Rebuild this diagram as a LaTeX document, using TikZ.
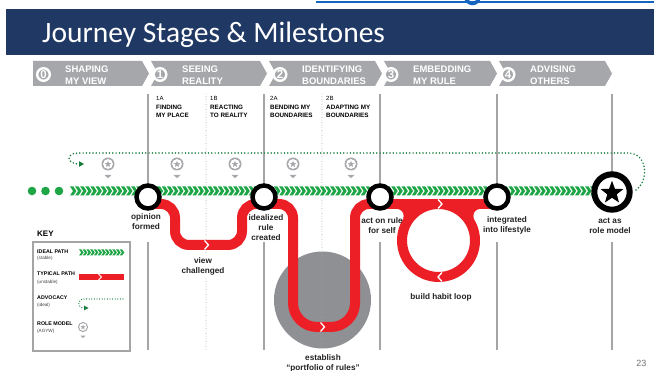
\documentclass[tikz,border=0pt]{standalone}
\usepackage{fontspec}
\setmainfont{Liberation Sans}
\newfontfamily\titlefont{Carlito}
\usetikzlibrary{shapes.geometric}
\definecolor{navy}{RGB}{31,56,100}
\definecolor{topblue}{RGB}{21,101,192}
\definecolor{stagegray}{RGB}{166,167,170}
\definecolor{linegray}{RGB}{165,165,165}
\definecolor{idealgreen}{RGB}{30,165,70}
\definecolor{advgreen}{RGB}{22,125,60}
\definecolor{pathred}{RGB}{236,30,38}
\definecolor{discgray}{RGB}{143,144,148}
\definecolor{icongray}{RGB}{168,169,172}
\definecolor{labeltext}{RGB}{35,35,35}
\tikzset{
  rmicon/.pic={
    \fill[icongray] (0,0) circle (6.5);
    \fill[white] (0,0) circle (4.9);
    \node[star, star points=5, star point ratio=2.3, fill=icongray, minimum size=6.8, inner sep=0] at (0,0.2) {};
    \fill[icongray] (-3.5,11) -- (3.5,11) -- (0,14.2) -- cycle;
  }
}
\begin{document}
\begin{tikzpicture}[x=1pt,y=-1pt,
  stagetxt/.style={anchor=base west, inner sep=0, text=white, font=\bfseries\fontsize{9.5}{11}\selectfont},
  stagenum/.style={circle, draw=white, line width=2.4, fill=stagegray, minimum size=12.6, inner sep=0, text=white, font=\bfseries\fontsize{11.5}{12}\selectfont},
  subid/.style={anchor=base west, inner sep=0, font=\fontsize{6}{7}\selectfont, text=black},
  subname/.style={anchor=base west, inner sep=0, font=\bfseries\fontsize{6.3}{7}\selectfont, text=black},
  vline/.style={draw=linegray, line width=1.2},
  dline/.style={draw=linegray, line width=0.9, line cap=round, dash pattern=on 0pt off 2.6pt},
  milestone/.style={circle, draw=black, line width=4.5, fill=white, minimum size=23, inner sep=0},
  mlabel/.style={align=center, inner sep=0, text=labeltext, font=\bfseries\fontsize{8.2}{10}\selectfont},
  redpath/.style={draw=pathred, line width=10},
  notch/.style={draw=white, line width=1.3},
  advocacy/.style={draw=advgreen, line width=1.7, line cap=round, dash pattern=on 0pt off 3.3pt},
  keyhead/.style={anchor=base west, inner sep=0, font=\bfseries\fontsize{5.3}{6}\selectfont, text=black},
  keysub/.style={anchor=base west, inner sep=0, font=\fontsize{4.6}{5}\selectfont, text=black!75},
]
\useasboundingbox (0,0) rectangle (654,371);
\fill[white] (0,0) rectangle (654,371);

% ---------- header ----------
\draw[topblue, line width=2] (316,2.5) -- (654,2.5);
\draw[topblue, line width=3.5] (472.5,-3) circle (6.5);
\fill[navy] (6,9) rectangle (654,55.5);
\node[anchor=base west, inner sep=0, text=white, font=\titlefont\fontsize{29.5}{30}\selectfont] (title) at (42,43) {Journey Stages \& Milestones};

% ---------- stage bar ----------
\fill[stagegray] (33,61) -- (142,61) -- (149,73.5) -- (142,86) -- (33,86) -- cycle;
\foreach \xl/\xr in {151/267, 269/382, 384/497, 499/612}
  \fill[stagegray] (\xl,61) -- (\xr-7,61) -- (\xr,73.5) -- (\xr-7,86) -- (\xl,86) -- (\xl+7,73.5) -- cycle;
\node[stagenum] (n0) at (43.5,74.5) {0};
\node[stagenum] (n1) at (160,74.5) {1};
\node[stagenum] (n2) at (280,74.5) {2};
\node[stagenum] (n3) at (391,74.5) {3};
\node[stagenum] (n4) at (508,74.5) {4};
\node[stagetxt] (t0a) at (65,73) {SHAPING};
\node[stagetxt] (t0b) at (65,84.5) {MY VIEW};
\node[stagetxt] (t1a) at (182,73) {SEEING};
\node[stagetxt] (t1b) at (182,84.5) {REALITY};
\node[stagetxt] (t2a) at (302,73) {IDENTIFYING};
\node[stagetxt] (t2b) at (302,84.5) {BOUNDARIES};
\node[stagetxt] (t3a) at (413,73) {EMBEDDING};
\node[stagetxt] (t3b) at (413,84.5) {MY RULE};
\node[stagetxt] (t4a) at (530,73) {ADVISING};
\node[stagetxt] (t4b) at (530,84.5) {OTHERS};

% ---------- sub-stage labels ----------
\node[subid] (s1a) at (156,100.5) {1A};
\node[subname] (s1an) at (156,109.5) {FINDING};
\node[subname] (s1an2) at (156,117.5) {MY PLACE};
\node[subid] (s1b) at (210,100.5) {1B};
\node[subname] (s1bn) at (210,109.5) {REACTING};
\node[subname] (s1bn2) at (210,117.5) {TO REALITY};
\node[subid] (s2a) at (270,100.5) {2A};
\node[subname] (s2an) at (270,109.5) {BENDING MY};
\node[subname] (s2an2) at (270,117.5) {BOUNDARIES};
\node[subid] (s2b) at (326,100.5) {2B};
\node[subname] (s2bn) at (326,109.5) {ADAPTING MY};
\node[subname] (s2bn2) at (326,117.5) {BOUNDARIES};

% ---------- background disc ----------
\fill[discgray] (322.5,300) circle (48.5);

% ---------- vertical guide lines ----------
\foreach \x in {148,264,380,497,612} {
  \draw[vline] (\x,94) -- (\x,185);
  \draw[vline] (\x,242) -- (\x,350);
}
\draw[dline] (206,94) -- (206,255);
\draw[dline] (206,279) -- (206,350);
\draw[dline] (322,94) -- (322,350);

% ---------- advocacy path and role-model icons ----------
\coordinate (advS) at (636,190);
\coordinate (advE) at (79,164);
\draw[advocacy] (advS) .. controls (649,181) and (648,153) .. (628,153) -- (78,153) .. controls (66,153) and (66,164) .. (advE);
\fill[advgreen] (79,161.2) -- (84,164) -- (79,166.8) -- cycle;
\foreach \x in {108,177,235,293,351}
  \pic at (\x,164) {rmicon};

% ---------- ideal path ----------
\foreach \x in {32,45.5,59}
  \fill[idealgreen] (\x,191) circle (4.3);
\foreach \i in {0,...,102} {
  \pgfmathsetmacro\cx{70+5.1*\i}
  \fill[idealgreen] (\cx,186.5) -- ++(3.4,0) -- ++(3,4.5) -- ++(-3,4.5) -- ++(-3.4,0) -- ++(3,-4.5) -- cycle;
}

% ---------- typical path ----------
\coordinate (p1) at (148,204);
\coordinate (p2) at (264,204);
\coordinate (p3) at (380,204);
\coordinate (p4) at (497,204);
\draw[redpath, rounded corners=14] (p1) -- (175,204) -- (175,245) -- (242,245) -- (242,204) -- (p2);
\draw[redpath, rounded corners=14] (p2) -- (293,204) [rounded corners=24] -- (293,327) -- (355,327) [rounded corners=14] -- (355,204) -- (p3);
\draw[redpath] (p3) -- (p4);
\draw[redpath] (438.5,240.5) circle (36.5);
\fill[pathred] (396.6,208) -- (413,208) -- (402.7,219.6) -- cycle;
\fill[pathred] (480.4,208) -- (464,208) -- (474.3,219.6) -- cycle;
\fill[white] (396.6,216) circle (7);
\fill[white] (480.4,216) circle (7);
\draw[notch] (204.5,240.5) -- (208.5,245) -- (204.5,249.5);
\draw[notch] (320.5,322.5) -- (324.5,327) -- (320.5,331.5);
\draw[notch] (438,199.5) -- (442,204) -- (438,208.5);
\draw[notch] (442,272.5) -- (438,277) -- (442,281.5);

% ---------- milestones ----------
\node[milestone] (m1) at (148,197) {};
\node[milestone] (m2) at (264,197) {};
\node[milestone] (m3) at (380,197) {};
\node[milestone] (m4) at (497,197) {};
\node[circle, draw=black, line width=6, fill=white, minimum size=35.4, inner sep=0] (m5) at (612,192) {};
\node[star, star points=5, star point ratio=2.4, fill=black, minimum size=24, inner sep=0] (m5s) at (612,192.8) {};

\node[mlabel] (l1) at (146,222) {opinion\\formed};
\node[mlabel] (l2) at (266,228) {idealized\\rule\\created};
\node[mlabel] (l3) at (382,225.5) {act on rule\\for self};
\node[mlabel] (l4) at (507,225.5) {integrated\\into lifestyle};
\node[mlabel] (l5) at (610,225.5) {act as\\role model};
\node[mlabel] (l6) at (203,266.5) {view\\challenged};
\node[mlabel] (l7) at (441,297) {build habit loop};
\node[mlabel] (l8) at (323,363.5) {establish\\“portfolio of rules”};

% ---------- key ----------
\node[anchor=base west, inner sep=0, font=\bfseries\fontsize{8}{9}\selectfont, text=black] (keyt) at (37,237) {KEY};
\draw[draw=linegray, line width=1.1] (33,242) rectangle (130,351);
\node[keyhead] (k1) at (37,254) {IDEAL PATH};
\node[keysub] (k1s) at (37,260) {(stable)};
\node[keyhead] (k2) at (37,276) {TYPICAL PATH};
\node[keysub] (k2s) at (37,284) {(unstable)};
\node[keyhead] (k3) at (37,300) {ADVOCACY};
\node[keysub] (k3s) at (37,307) {(ideal)};
\node[keyhead] (k4) at (37,326) {ROLE MODEL};
\node[keysub] (k4s) at (37,333) {(AGYW)};
\foreach \i in {0,...,11} {
  \pgfmathsetmacro\cx{79+3.7*\i}
  \fill[idealgreen] (\cx,249.5) -- ++(2.4,0) -- ++(2.2,3) -- ++(-2.2,3) -- ++(-2.4,0) -- ++(2.2,-3) -- cycle;
}
\fill[pathred] (79,274) rectangle (124,280);
\draw[white, line width=0.9] (98.5,274) -- (101.5,277) -- (98.5,280);
\coordinate (kaS) at (123,299);
\coordinate (kaE) at (84,308);
\draw[advocacy, line width=1.3, dash pattern=on 0pt off 2.6pt] (kaS) -- (84,299) .. controls (77,299) and (77,308) .. (kaE);
\fill[advgreen] (84,305.6) -- (88.5,308) -- (84,310.4) -- cycle;
\begin{scope}[shift={(83,327)}, scale=0.78, transform shape]
  \pic {rmicon};
\end{scope}

% ---------- page number ----------
\node[anchor=base east, inner sep=0, font=\fontsize{9}{10}\selectfont, text=black!55] (pg) at (646.5,366.5) {23};
\end{tikzpicture}
\end{document}
